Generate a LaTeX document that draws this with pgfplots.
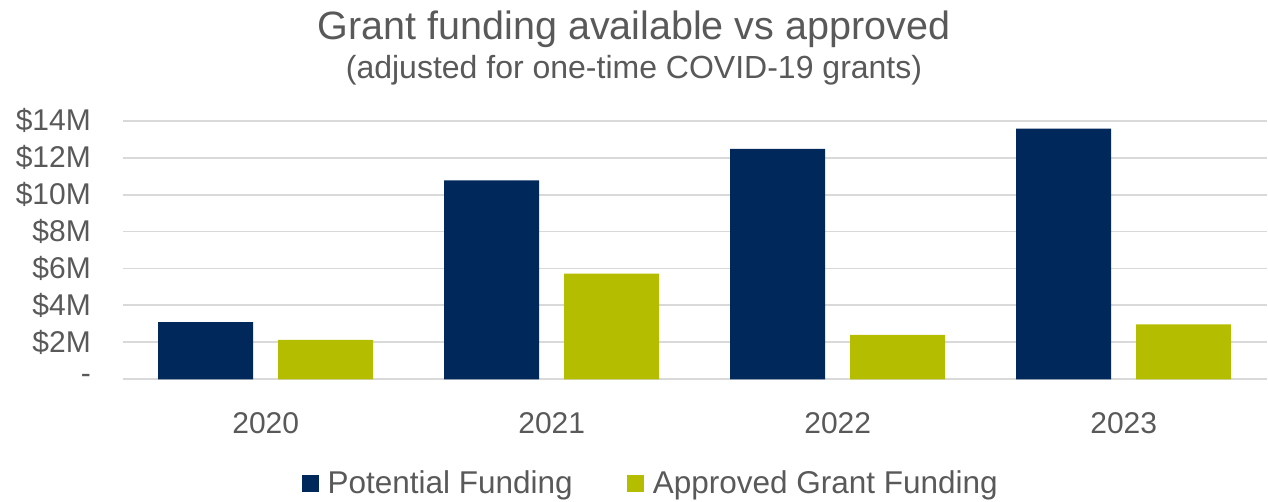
\documentclass[border=0pt]{standalone}
\usepackage{pgfplots}
\pgfplotsset{compat=1.18}
\usepackage{fontspec}
\setmainfont{Liberation Sans}
\definecolor{navy}{HTML}{00285A}
\definecolor{olive}{HTML}{B5BD00}
\definecolor{gridgray}{HTML}{D9D9D9}
\definecolor{txt}{HTML}{595959}
\begin{document}
\begin{tikzpicture}
\useasboundingbox (-122.7pt,-122.7pt) rectangle (1145.3pt,379.3pt);
\begin{axis}[
  at={(0pt,0pt)}, anchor=south west,
  scale only axis, width=1144pt, height=258.6pt,
  xmin=-0.5, xmax=3.5, ymin=0, ymax=14,
  xtick={0,1,2,3}, xticklabels={2020,2021,2022,2023},
  ytick={0,2,4,6,8,10,12,14},
  yticklabels={-,\$2M,\$4M,\$6M,\$8M,\$10M,\$12M,\$14M},
  axis line style={draw=none}, major tick style={draw=none},
  ymajorgrids, grid style={color=gridgray, line width=1.9pt},
  ticklabel style={font=\fontsize{30}{36}\selectfont, text=txt},
  /pgf/number format/assume math mode=true,
  yticklabel style={inner sep=0pt, anchor=east, xshift=-31.7pt},
  xticklabel style={inner sep=0pt, anchor=north, yshift=-28.7pt},
  ybar, bar width=95pt,
  legend style={at={(0.4615,-0.402)}, anchor=center, draw=none, fill=none,
    font=\fontsize{31.5}{38}\selectfont, text=txt, legend columns=2,
    /tikz/every even column/.append style={column sep=52pt},
    inner sep=0pt, row sep=0pt},
  legend image code/.code={\fill[#1] (0pt,-8.75pt) rectangle (17.5pt,8.75pt); \path (24pt,0pt);},
]
\addplot[fill=navy, draw=none, bar shift=-60pt] coordinates {(0,3.09) (1,10.77) (2,12.47) (3,13.57)};
\addlegendentry{Potential Funding}
\addplot[fill=olive, draw=none, bar shift=60pt] coordinates {(0,2.13) (1,5.72) (2,2.40) (3,2.98)};
\addlegendentry{Approved Grant Funding}
\end{axis}
\node[anchor=base, text=txt, font=\fontsize{39.5}{47}\selectfont, inner sep=0pt] at (511.3pt, 339.5pt) {Grant funding available vs approved};
\node[anchor=base, text=txt, font=\fontsize{32}{38}\selectfont, inner sep=0pt] at (511.3pt, 300.3pt) {(adjusted for one-time COVID-19 grants)};
\end{tikzpicture}
\end{document}
